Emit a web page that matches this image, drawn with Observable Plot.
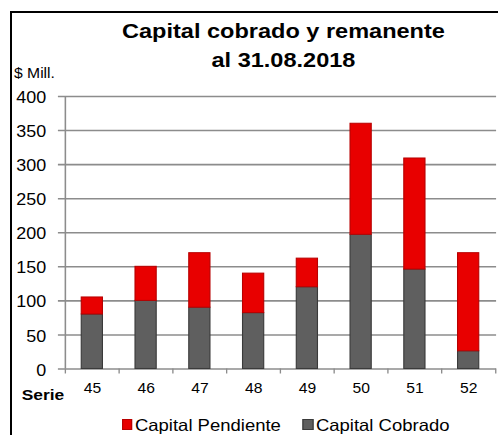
<!DOCTYPE html>
<html>
<head>
<meta charset="utf-8">
<script src="https://cdn.jsdelivr.net/npm/d3@7"></script>
<script src="https://cdn.jsdelivr.net/npm/@observablehq/plot@0.6"></script>
<style>
  html, body { margin: 0; padding: 0; background: #fff; }
  body { width: 498px; height: 435px; overflow: hidden; position: relative; font-family: "Liberation Sans", Arial, sans-serif; color: #000; }
  #border { position: absolute; left: 10px; top: 11px; width: 700px; height: 700px; border-left: 2px solid #000; border-top: 2px solid #000; }
  #stage { position: absolute; left: 0; top: 0; height: 435px; transform-origin: 0 0; }
  #chart { position: absolute; left: 0; top: 0; }
  .t { position: absolute; white-space: nowrap; }
  .sw { position: absolute; box-sizing: border-box; }
</style>
</head>
<body>
<div id="border"></div>
<div id="stage">
  <div id="chart"></div>
  <div class="t" id="title"></div>
  <div class="t" id="unit"></div>
  <div class="t" id="serie"></div>
  <div id="legend"></div>
</div>
<script>
// ---- data ----
const series = ["45", "46", "47", "48", "49", "50", "51", "52"];
const cobrado = [80, 100, 90, 82, 120, 197, 146, 26];
const pendiente = [25, 50, 80, 58, 42, 163, 163, 144];
const yTicks = [0, 50, 100, 150, 200, 250, 300, 350, 400];
const seriesNames = ["Capital Pendiente", "Capital Cobrado"];
const titleLines = ["Capital cobrado y remanente", "al 31.08.2018"];
const unitLabel = "$ Mill.";
const xLabel = "Serie";

// ---- layout ----
const S = 1.12;               // horizontal stretch of the original picture
const W = 498 / S, H = 435;
const mL = 56.7, mR = 1.7, mT = 96, mB = 66.5;
const band = (W - mL - mR) / series.length;
const barW = 21.5 / S;
const inset = (band - barW) / 2;
const tick = 5;
const grid = "#8c8c8c";
const red = "#e80000", redEdge = "#b80000";
const gray = "#5f5f5f", grayEdge = "#3a3a3a";

const stage = document.getElementById("stage");
stage.style.width = W + "px";
stage.style.transform = `scaleX(${S})`;

const rows = series.map((s, i) => ({serie: s, cob: cobrado[i], pen: pendiente[i]}));

const plot = Plot.plot({
  width: W, height: H,
  marginLeft: mL, marginRight: mR, marginTop: mT, marginBottom: mB,
  style: {fontFamily: "'Liberation Sans', Arial, sans-serif", background: "transparent", overflow: "visible", color: "#000"},
  x: {domain: series, padding: 0},
  y: {domain: [yTicks[0], yTicks[yTicks.length - 1]]},
  marks: [
    Plot.ruleY(yTicks, {y: d => d, stroke: grid, strokeWidth: 1.6, insetLeft: -tick}),
    Plot.ruleX([series[0]], {x: d => d, dx: -band / 2, y1: yTicks[0], y2: yTicks[yTicks.length - 1], stroke: grid, strokeWidth: 1.4}),
    Plot.ruleX(series, {x: d => d, dx: -band / 2, y1: 0, y2: 0, insetBottom: -tick, stroke: grid, strokeWidth: 1.2}),
    Plot.ruleX([series[series.length - 1]], {x: d => d, dx: band / 2, y1: 0, y2: 0, insetBottom: -tick, stroke: grid, strokeWidth: 1.2}),
    Plot.barY(rows, {x: "serie", y1: 0, y2: "cob", fill: gray, stroke: grayEdge, strokeWidth: 1, insetLeft: inset, insetRight: inset}),
    Plot.barY(rows, {x: "serie", y1: "cob", y2: d => d.cob + d.pen, fill: red, stroke: redEdge, strokeWidth: 1, insetLeft: inset, insetRight: inset}),
    Plot.axisY({ticks: yTicks, tickSize: 0, tickPadding: 16, fontSize: 16, label: null, dy: 1.5}),
    Plot.axisX({tickSize: 0, tickPadding: 14, fontSize: 14, label: null})
  ]
});
document.getElementById("chart").appendChild(plot);

// ---- title & labels ----
const title = document.getElementById("title");
title.innerHTML = titleLines.map(t => `<div>${t}</div>`).join("");
Object.assign(title.style, {left: (253.1 - 200) + "px", width: "400px", top: "15.5px", textAlign: "center", fontWeight: "bold", fontSize: "21px", lineHeight: "29.5px"});

const unit = document.getElementById("unit");
unit.textContent = unitLabel;
Object.assign(unit.style, {left: "12.5px", top: (77.5 - 0.8465 * 14) + "px", fontSize: "14px", lineHeight: "14px"});

const serie = document.getElementById("serie");
serie.textContent = xLabel;
Object.assign(serie.style, {left: "19.4px", top: (400 - 0.8465 * 15.5) + "px", fontSize: "15.5px", lineHeight: "15.5px", fontWeight: "bold"});

// ---- legend ----
const legend = document.getElementById("legend");
const legendItems = [
  {name: seriesNames[0], fill: red, edge: redEdge, sx: 108.7, tx: 120.5},
  {name: seriesNames[1], fill: gray, edge: grayEdge, sx: 270.3, tx: 282.1}
];
const lfs = 16.5;
for (const it of legendItems) {
  const sw = document.createElement("div");
  sw.className = "sw";
  Object.assign(sw.style, {left: it.sx + "px", top: "418.5px", width: "9.6px", height: "11.2px", background: it.fill, border: `1px solid ${it.edge}`});
  legend.appendChild(sw);
  const tx = document.createElement("div");
  tx.className = "t";
  tx.textContent = it.name;
  Object.assign(tx.style, {left: it.tx + "px", top: (431 - 0.8465 * lfs) + "px", fontSize: lfs + "px", lineHeight: lfs + "px"});
  legend.appendChild(tx);
}
</script>
</body>
</html>
